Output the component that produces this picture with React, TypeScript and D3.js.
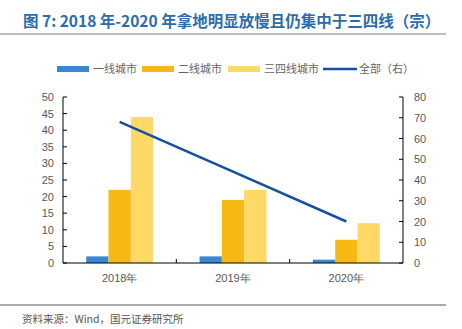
import React from "react";
import * as d3 from "d3";

const categories = ["2018年", "2019年", "2020年"];
const seriesNames = ["一线城市", "二线城市", "三四线城市"];
const tier1 = [2, 2, 1];
const tier2 = [22, 19, 7];
const tier34 = [44, 22, 12];
const totalRight = [68, 44, 20];
const leftTicks = [0, 5, 10, 15, 20, 25, 30, 35, 40, 45, 50];
const rightTicks = [0, 10, 20, 30, 40, 50, 60, 70, 80];
const colors = ["#3A87D2", "#F6B813", "#FFD966"];
const lineColor = "#1450A0";
const title = "图 7: 2018 年-2020 年拿地明显放慢且仍集中于三四线（宗）";
const source = "资料来源：Wind，国元证券研究所";
const lineName = "全部（右）";

export default function App() {
  const W = 462, H = 329;
  const left = 63, right = 403, top = 97, bottom = 263;
  const x = d3.scaleBand<string>().domain(categories).range([left, right]);
  const yL = d3.scaleLinear().domain([0, 50]).range([bottom, top]);
  const yR = d3.scaleLinear().domain([0, 80]).range([bottom, top]);
  const barW = 22.3;
  const series = [tier1, tier2, tier34];
  const line = d3.line<number>()
    .x((_, i) => x(categories[i])! + x.bandwidth() / 2)
    .y((d) => yR(d));
  const font = "'Liberation Sans', Arial, sans-serif";
  const cjk = "'Noto Sans CJK SC', sans-serif";
  const legendItems = [
    { x: 57, label: seriesNames[0], color: colors[0], type: "bar" },
    { x: 142, label: seriesNames[1], color: colors[1], type: "bar" },
    { x: 228, label: seriesNames[2], color: colors[2], type: "bar" },
    { x: 323, label: lineName, color: lineColor, type: "line" },
  ];
  return (
    <svg width={W} height={H} style={{ position: "absolute", left: 0, top: 0, background: "#fff" }}>
      <text x={23} y={27} fontFamily={cjk} fontWeight="bold" fontSize={15.5} fill="#2B6CB0">{title}</text>
      <line x1={0} x2={446} y1={34} y2={34} stroke="#7f7f7f" strokeWidth={1.2} />
      {legendItems.map((it, i) => (
        <g key={i}>
          {it.type === "bar" ? (
            <rect x={it.x} y={66} width={32} height={6} fill={it.color} />
          ) : (
            <line x1={it.x} x2={it.x + 34} y1={69} y2={69} stroke={it.color} strokeWidth={2.5} />
          )}
          <text x={it.x + 36} y={73} fontFamily={cjk} fontSize={11} fill="#666">{it.label}</text>
        </g>
      ))}
      {series.map((s, si) =>
        s.map((v, ci) => (
          <rect key={`${si}-${ci}`}
            x={x(categories[ci])! + x.bandwidth() / 2 - 1.5 * barW + si * barW}
            y={yL(v)} width={barW} height={bottom - yL(v)} fill={colors[si]} />
        ))
      )}
      <path d={line(totalRight) || ""} fill="none" stroke={lineColor} strokeWidth={2.5} />
      {/* left axis */}
      <line x1={left} x2={left} y1={top} y2={bottom} stroke="#000" strokeWidth={1} />
      {leftTicks.map((t) => (
        <g key={t}>
          <line x1={left} x2={left + 4} y1={yL(t)} y2={yL(t)} stroke="#000" />
          <text x={54} y={yL(t) + 4} textAnchor="end" fontFamily={font} fontSize={11} fill="#595959">{t}</text>
        </g>
      ))}
      {/* right axis */}
      <line x1={right} x2={right} y1={top} y2={bottom} stroke="#000" strokeWidth={1} />
      {rightTicks.map((t) => (
        <g key={t}>
          <line x1={right - 4} x2={right} y1={yR(t)} y2={yR(t)} stroke="#000" />
          <text x={414} y={yR(t) + 4} fontFamily={font} fontSize={11} fill="#595959">{t}</text>
        </g>
      ))}
      {/* x axis */}
      <line x1={left} x2={right} y1={bottom} y2={bottom} stroke="#000" strokeWidth={1.2} />
      {categories.slice(1).map((c) => (
        <line key={c} x1={x(c)!} x2={x(c)!} y1={bottom} y2={bottom - 4} stroke="#000" />
      ))}
      {categories.map((c) => (
        <text key={c} x={x(c)! + x.bandwidth() / 2} y={282} textAnchor="middle" fontFamily={font} fontSize={11} fill="#595959">{c}</text>
      ))}
      <line x1={0} x2={446} y1={305} y2={305} stroke="#8c8c8c" strokeWidth={1.5} />
      <text x={22} y={323} fontFamily={cjk} fontSize={10.5} fill="#555">{source}</text>
    </svg>
  );
}
